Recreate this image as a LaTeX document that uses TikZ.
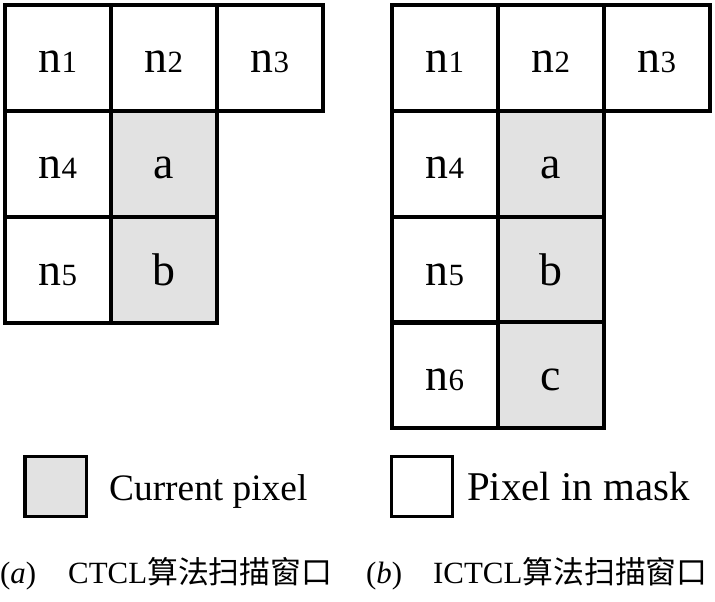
\documentclass[tikz,border=0pt]{standalone}
\usepackage{fontspec}
\setmainfont{Liberation Serif}
\newfontfamily\cjk{Noto Sans CJK SC}
\newcommand\cellnum[1]{n{\fontsize{31}{31}\selectfont #1}}
\begin{document}
\begin{tikzpicture}[x=1bp,y=-1bp,
  cellbox/.style={draw=black,line width=3.1bp,minimum size=106bp,inner sep=0pt,
    text height=30bp,text depth=0bp,font=\fontsize{46}{46}\selectfont},
  curcell/.style={cellbox,fill=curgray},
  legbox/.style={draw=black,line width=3bp,minimum width=61bp,minimum height=60bp,inner sep=0pt},
  legtext/.style={anchor=base west,inner sep=0pt},
  captext/.style={anchor=base west,inner sep=0pt,font=\fontsize{31}{31}\selectfont}]
\definecolor{curgray}{HTML}{E2E2E2}
\useasboundingbox (0,0) rectangle (715,602);
% left grid
\node[cellbox] (a1) at (58,58) {\cellnum{1}};
\node[cellbox] (a2) at (164,58) {\cellnum{2}};
\node[cellbox] (a3) at (270,58) {\cellnum{3}};
\node[cellbox] (a4) at (58,164) {\cellnum{4}};
\node[curcell] (aa) at (164,164) {a};
\node[cellbox] (a5) at (58,270) {\cellnum{5}};
\node[curcell] (ab) at (164,270) {b};
% right grid
\node[cellbox] (b1) at (445,58) {\cellnum{1}};
\node[cellbox] (b2) at (551,58) {\cellnum{2}};
\node[cellbox] (b3) at (657,58) {\cellnum{3}};
\node[cellbox] (b4) at (445,164) {\cellnum{4}};
\node[curcell] (ba) at (551,164) {a};
\node[cellbox] (b5) at (445,270) {\cellnum{5}};
\node[curcell] (bb) at (551,270) {b};
\node[cellbox] (b6) at (445,375) {\cellnum{6}};
\node[curcell] (bc) at (551,375) {c};
% legend
\node[legbox,fill=curgray] (lg) at (55.5,486) {};
\node[legtext,font=\fontsize{37.5}{38}\selectfont] (lgt) at (109,500) {Current pixel};
\node[legbox,fill=white] (lw) at (421.5,486) {};
\node[legtext,font=\fontsize{41}{41}\selectfont] (lwt) at (467,500) {Pixel in mask};
% captions
\node[captext] (capa) at (0,583) {(\textit{a})};
\node[captext] (capat) at (68,583) {CTCL{\cjk 算法扫描窗口}};
\node[captext] (capb) at (366,583) {(\textit{b})};
\node[captext] (capbt) at (433,583) {ICTCL{\cjk 算法扫描窗口}};
\end{tikzpicture}
\end{document}
